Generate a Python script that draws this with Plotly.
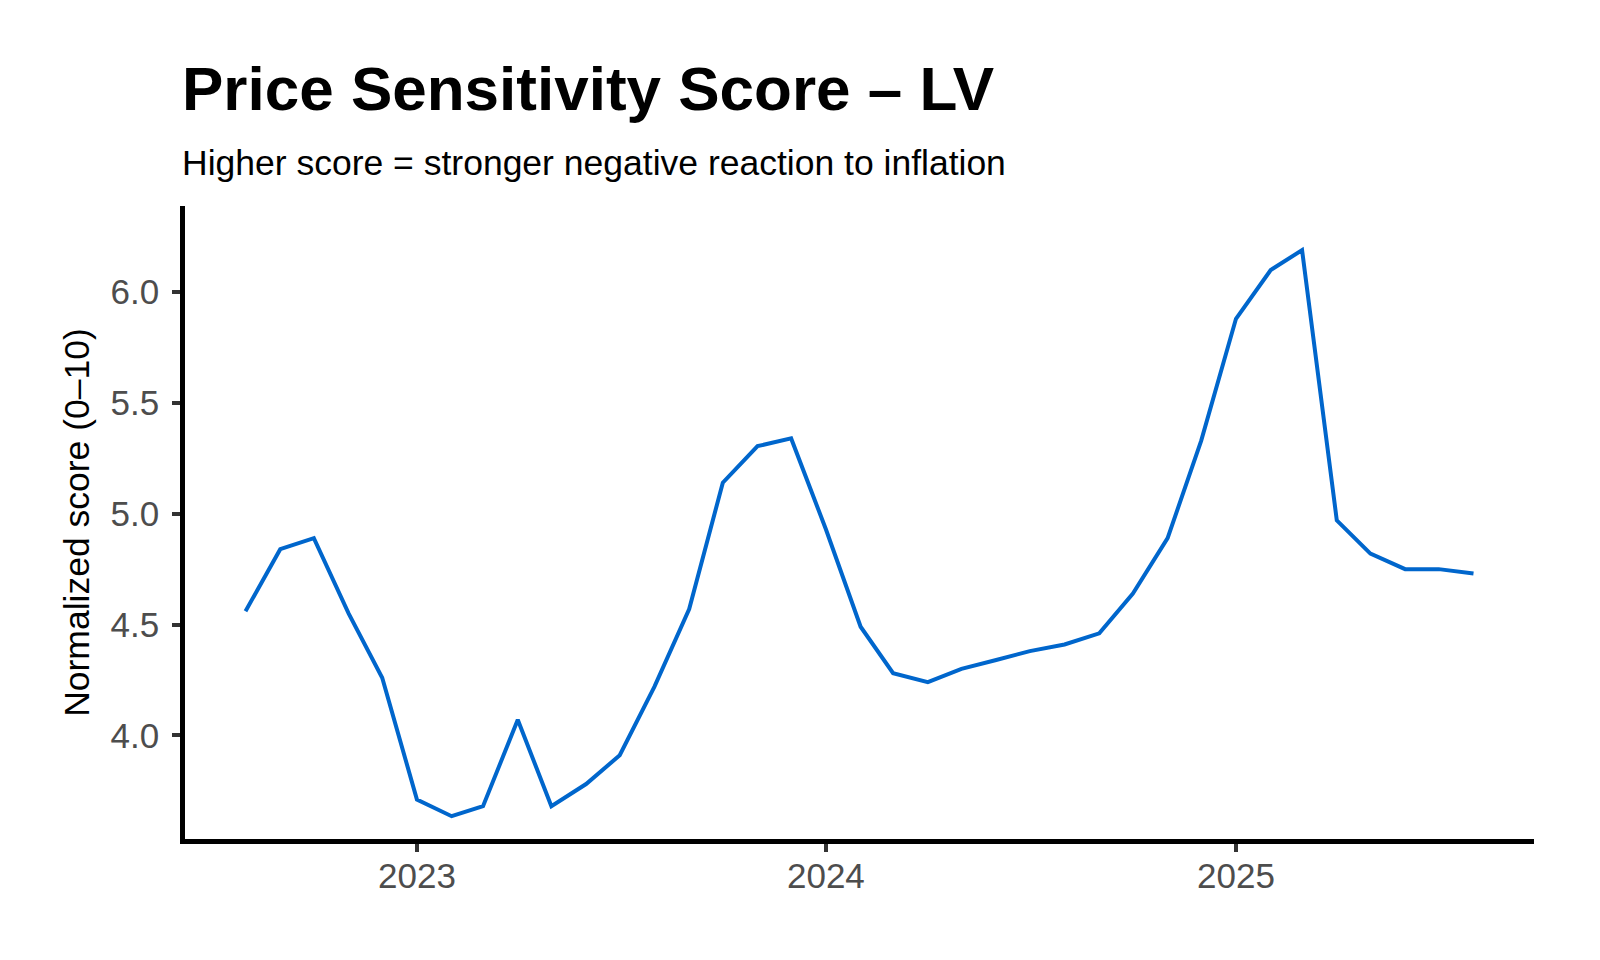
import pandas as pd
import plotly.graph_objects as go

# monthly normalized price sensitivity scores, Aug 2022 - Aug 2025
months = pd.date_range("2022-08-01", "2025-08-01", freq="MS")
scores = [
    4.56, 4.84, 4.89, 4.55, 4.26,                                      # 2022
    3.71, 3.635, 3.68, 4.07, 3.68, 3.78, 3.91, 4.22, 4.57, 5.14, 5.305, 5.34,  # 2023
    4.93, 4.49, 4.28, 4.24, 4.30, 4.34, 4.38, 4.41, 4.46, 4.64, 4.89, 5.33,    # 2024
    5.88, 6.10, 6.19, 4.97, 4.82, 4.75, 4.75, 4.73,                    # 2025
]
year_ticks = ["2023-01-01", "2024-01-01", "2025-01-01"]
year_labels = ["2023", "2024", "2025"]
y_ticks = [4.0, 4.5, 5.0, 5.5, 6.0]

title_text = "Price Sensitivity Score – LV"
subtitle_text = "Higher score = stronger negative reaction to inflation"
y_title = "Normalized score (0–10)"

FONT = "Liberation Sans, Arial, sans-serif"

fig = go.Figure()
fig.add_trace(go.Scatter(
    x=months, y=scores, mode="lines",
    line=dict(color="#0066CC", width=4),
    hoverinfo="x+y", showlegend=False,
))

fig.add_annotation(
    text="<b>" + title_text + "</b>", xref="paper", yref="paper",
    x=-0.004, y=1.186, xanchor="left", yanchor="middle", showarrow=False,
    font=dict(family=FONT, size=62, color="black"),
)
fig.add_annotation(
    text=subtitle_text, xref="paper", yref="paper",
    x=-0.004, y=1.068, xanchor="left", yanchor="middle", showarrow=False,
    font=dict(family=FONT, size=35.5, color="black"),
)

axis_common = dict(
    showline=True, linecolor="black", linewidth=4.5,
    ticks="outside", ticklen=8, tickwidth=3.5, tickcolor="#333333",
    showgrid=False, zeroline=False,
    tickfont=dict(family=FONT, size=35, color="#4D4D4D"),
)

fig.update_xaxes(
    range=["2022-06-08", "2025-09-24"],
    tickvals=year_ticks, ticktext=year_labels,
    ticklabelstandoff=-6,
    **axis_common,
)
fig.update_yaxes(
    range=[3.532, 6.389],
    tickvals=y_ticks, tickformat=".1f",
    ticklabelstandoff=6,
    title=dict(text=y_title, font=dict(family=FONT, size=35.5, color="black"), standoff=12),
    **axis_common,
)

fig.update_layout(
    width=1600, height=960,
    margin=dict(l=177, r=74, t=198, b=129),
    plot_bgcolor="white", paper_bgcolor="white",
    font=dict(family=FONT),
)

fig.write_html("out.html")
